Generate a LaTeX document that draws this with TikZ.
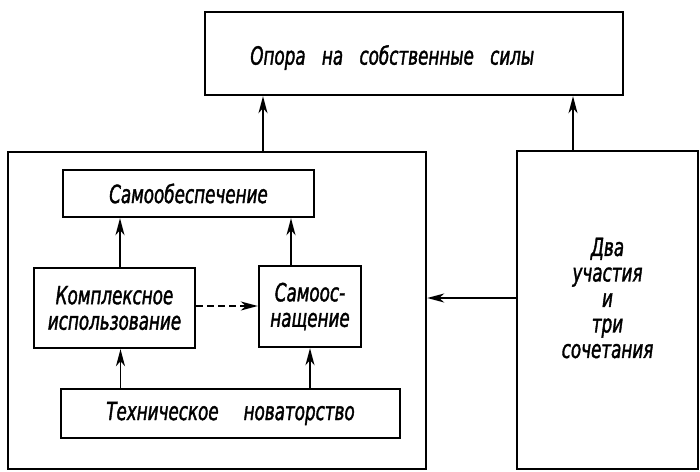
\documentclass[tikz,border=0pt]{standalone}
\usepackage{fontspec}
\newfontfamily\gostfont[FakeStretch=0.67, FakeBold=1.5]{DejaVu Sans}
\usetikzlibrary{arrows.meta}

\begin{document}
\begin{tikzpicture}[x=1pt, y=-1pt,
    font=\gostfont\itshape\fontsize{25}{25.5}\selectfont,
    block/.style={draw, line width=2.4pt, inner sep=0pt, align=center},
    arr/.style={-{Stealth[length=17pt, width=9pt, inset=5pt]}, line width=1.6pt},
    ]
    \useasboundingbox (0,0) rectangle (700,471);
    % outer boxes
    \node[block, minimum width=418pt, minimum height=83pt,
       label={[name=oporaText, anchor=west, xshift=43pt, yshift=-4pt]west:Опора\hspace{11pt} на\hspace{11pt} собственные\hspace{11pt} силы}]
       (opora) at (414,53.5) {};
    \node[block, minimum width=418pt, minimum height=317pt] (big) at (217,310.5) {};
    \node[block, minimum width=181pt, minimum height=318pt,
       label={[name=dvaText, anchor=center, align=center, yshift=12pt]center:{Два\\участия\\и\\три\\сочетания}}]
       (dva) at (607.5,310) {};
    % inner boxes
    \node[block, minimum width=251pt, minimum height=47pt] (samoob) at (188.5,193.5) {Самообеспечение};
    \node[block, minimum width=161pt, minimum height=80pt] (kompl) at (114.5,308) {Комплексное\\использование};
    \node[block, minimum width=102pt, minimum height=81pt] (samoosn) at (310,306.5) {Самоос-\\нащение};
    \node[block, minimum width=339pt, minimum height=49pt] (tekhn) at (230.5,413.5) {Техническое\quad новаторство};
    % connectors
    \draw[arr] ([xshift=46pt]big.north) -- ([xshift=46pt]big.north |- opora.south);
    \draw[arr] ([xshift=-34.5pt]dva.north) -- ([xshift=-34.5pt]dva.north |- opora.south);
    \draw[arr] ([yshift=12pt]dva.west) -- ([yshift=12pt]dva.west -| big.east);
    \draw[arr] ([xshift=5.5pt]kompl.north) -- ([xshift=5.5pt]kompl.north |- samoob.south);
    \draw[arr] ([xshift=-19pt]samoosn.north) -- ([xshift=-19pt]samoosn.north |- samoob.south);
    \draw[arr, dash pattern=on 7pt off 4pt] ([yshift=2pt]kompl.east) -- ([yshift=2pt]kompl.east -| samoosn.west);
    \draw[arr] ([xshift=6pt]kompl.south |- tekhn.north) -- ([xshift=6pt]kompl.south);
    \draw[arr] (samoosn.south |- tekhn.north) -- (samoosn.south);
\end{tikzpicture}
\end{document}
